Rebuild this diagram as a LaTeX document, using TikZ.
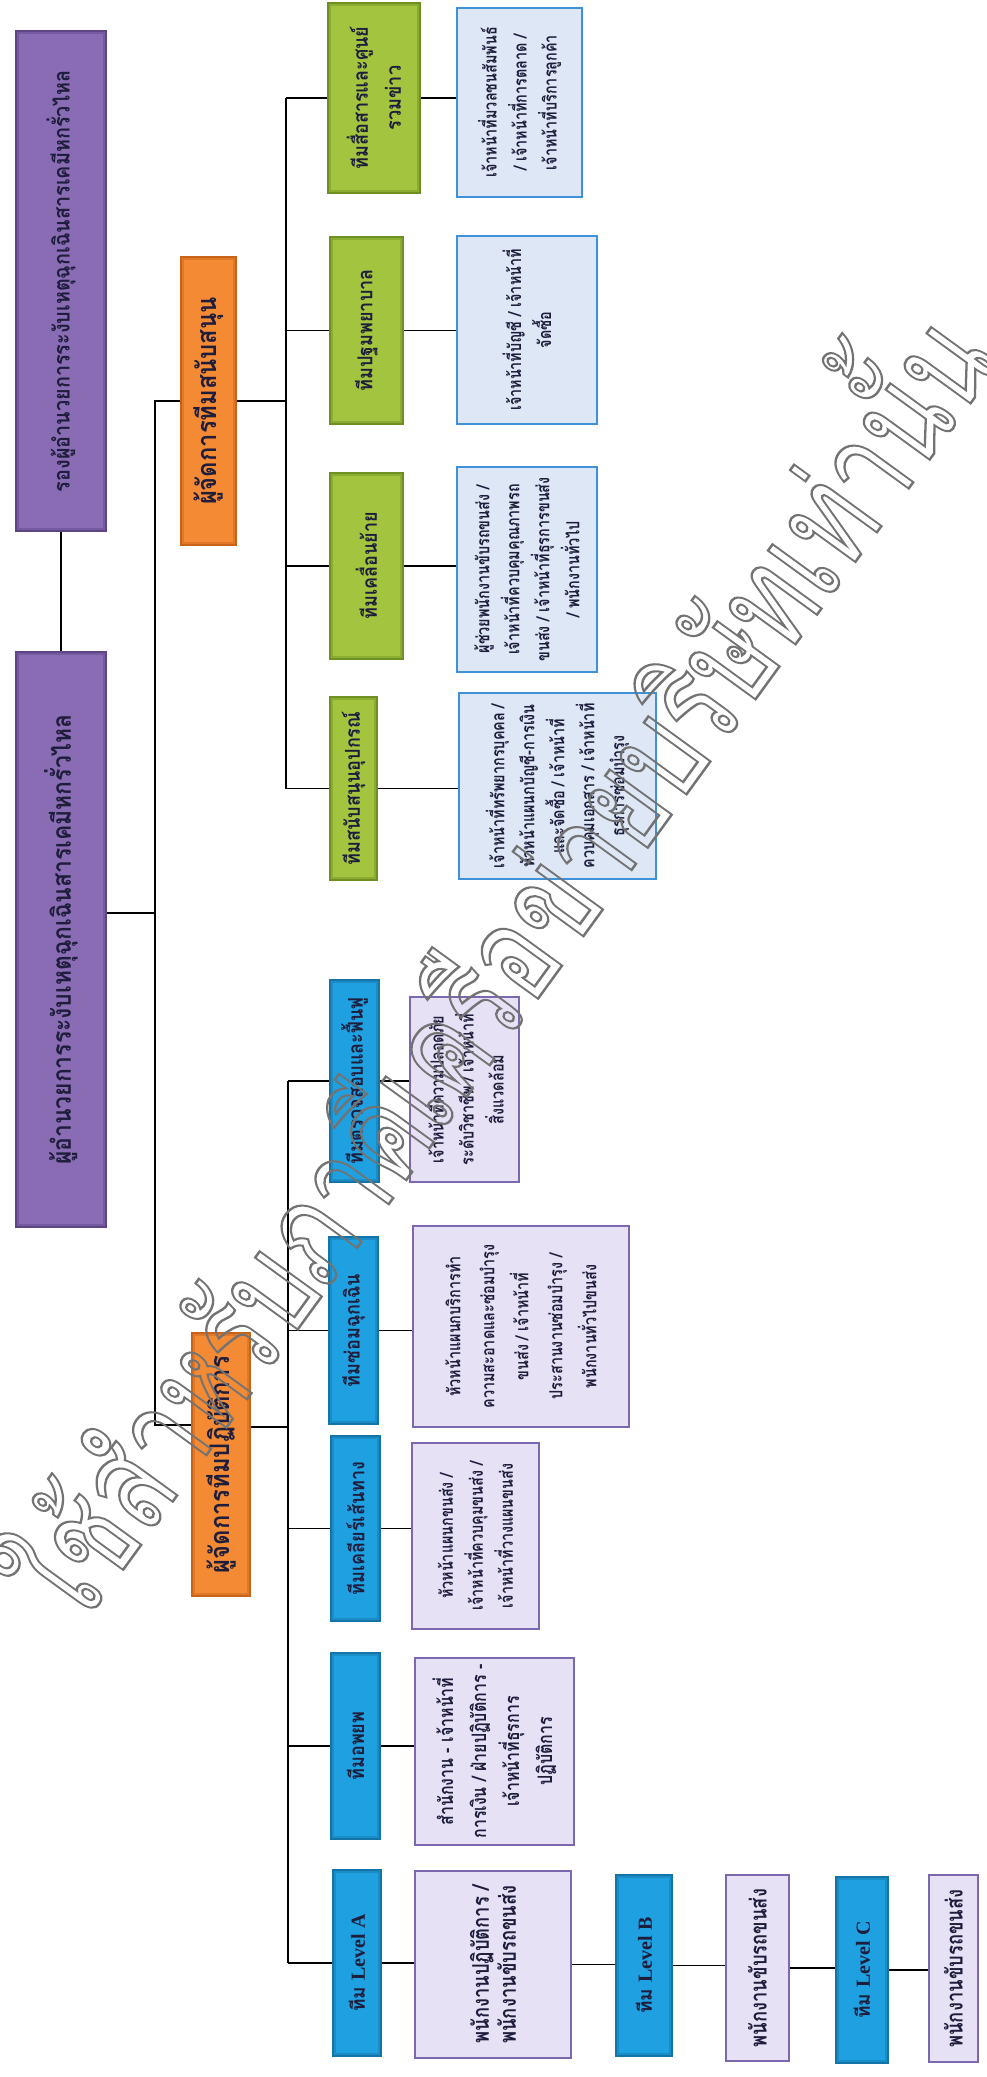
\documentclass[tikz,border=0pt]{standalone}
\usepackage{fontspec}
\newfontfamily\thaifont[Script=Thai]{Loma}
\newfontfamily\thaicond[Script=Thai,FakeStretch=0.8]{Loma}
\newfontfamily\thaimid[Script=Thai,FakeStretch=0.88]{Loma}
\newfontfamily\latserif{Liberation Serif}
\usetikzlibrary{calc}
\definecolor{purp}{HTML}{8A6CB5}
\definecolor{purpD}{HTML}{5E4585}
\definecolor{orng}{HTML}{F48A33}
\definecolor{orngD}{HTML}{C8641A}
\definecolor{grn}{HTML}{A3C43F}
\definecolor{grnD}{HTML}{6E8F22}
\definecolor{blu}{HTML}{1FA0E0}
\definecolor{bluD}{HTML}{1474A8}
\definecolor{lblue}{HTML}{DDE7F6}
\definecolor{lblueB}{HTML}{3D92DA}
\definecolor{lav}{HTML}{E7E1F6}
\definecolor{lavB}{HTML}{7B68AE}
\definecolor{ink}{HTML}{1E1E3C}
\newcommand\fPA{\thaimid\bfseries\fontsize{26}{30}\selectfont}
\newcommand\fPB{\thaimid\bfseries\fontsize{22.5}{26}\selectfont}
\newcommand\fOR{\thaimid\bfseries\fontsize{27}{30}\selectfont}
\newcommand\fTI{\thaimid\bfseries\fontsize{20.5}{33}\selectfont}
\newcommand\fDE{\thaicond\bfseries\fontsize{18}{30}\selectfont}
\newcommand\fLV{\thaicond\bfseries\fontsize{23}{27}\selectfont}
\newcommand\lvl[1]{{\thaifont\bfseries\fontsize{19}{22}\selectfont ทีม} {\latserif\bfseries\fontsize{20}{22}\selectfont Level #1}}
\newcommand\bx[7]{\node[#2, minimum width={(#6-#5)*1pt}, minimum height={(#4-#3)*1pt}] (#1) at ({(#3+#4)/2},{(#5+#6)/2}) {#7};}
\tikzset{
  base/.style={rotate=90, inner sep=0pt, align=center, text=ink, rectangle},
  bevel/.style={path picture={\draw[line width=6pt, draw=#1, opacity=0.45] (path picture bounding box.south west) rectangle (path picture bounding box.north east);}},
  purpbox/.style={base, fill=purp, draw=purpD, line width=1.5pt, bevel=purpD},
  orbox/.style={base, fill=orng, draw=orngD, line width=1.5pt, font=\fOR, bevel=orngD},
  grbox/.style={base, fill=grn, draw=grnD, line width=1.5pt, font=\fTI, bevel=grnD},
  blbox/.style={base, fill=blu, draw=bluD, line width=1.5pt, font=\fTI, bevel=bluD},
  lbbox/.style={base, fill=lblue, draw=lblueB, line width=1.5pt, font=\fDE},
  lvbox/.style={base, fill=lav, draw=lavB, line width=1.5pt, font=\fDE},
  conn/.style={draw=black, line width=1.6pt},
}
\begin{document}
\begin{tikzpicture}[x=1pt,y=-1pt]
\fill[white] (0,0) rectangle (986,2077);
\useasboundingbox (0,0) rectangle (986,2077);
% top level
\bx{P2}{purpbox,font=\fPB}{16}{106}{31}{531}{รองผู้อำนวยการระงับเหตุฉุกเฉินสารเคมีหกรั่วไหล}
\bx{P1}{purpbox,font=\fPA}{16}{106}{652}{1227}{ผู้อำนวยการระงับเหตุฉุกเฉินสารเคมีหกรั่วไหล}
\bx{O2}{orbox}{181}{236}{257}{545}{ผู้จัดการทีมสนับสนุน}
\bx{O1}{orbox}{192}{250}{1333}{1596}{ผู้จัดการทีมปฏิบัติการ}
% support teams
\bx{G1}{grbox}{328}{420}{3}{193}{ทีมสื่อสารและศูนย์\\รวมข่าว}
\bx{G2}{grbox}{330}{403}{237}{424}{ทีมปฐมพยาบาล}
\bx{G3}{grbox}{330}{403}{473}{659}{ทีมเคลื่อนย้าย}
\bx{G4}{grbox}{330}{377}{697}{880}{ทีมสนับสนุนอุปกรณ์}
\bx{D1}{lbbox}{457}{582}{8}{197}{เจ้าหน้าที่มวลชนสัมพันธ์\\/ เจ้าหน้าที่การตลาด /\\เจ้าหน้าที่บริการลูกค้า}
\bx{D2}{lbbox}{457}{597}{236}{424}{เจ้าหน้าที่บัญชี / เจ้าหน้าที่\\จัดซื้อ}
\bx{D3}{lbbox}{457}{597}{467}{672}{ผู้ช่วยพนักงานขับรถขนส่ง /\\เจ้าหน้าที่ควบคุมคุณภาพรถ\\ขนส่ง / เจ้าหน้าที่ธุรการขนส่ง\\/ พนักงานทั่วไป}
\bx{D4}{lbbox}{459}{656}{693}{879}{เจ้าหน้าที่ทรัพยากรบุคคล /\\หัวหน้าแผนกบัญชี-การเงิน\\และจัดซื้อ / เจ้าหน้าที่\\ควบคุมเอกสาร / เจ้าหน้าที่\\ธุรการซ่อมบำรุง}
% operation teams
\bx{B1}{blbox}{330}{379}{980}{1182}{ทีมตรวจสอบและฟื้นฟู}
\bx{B2}{blbox}{329}{378}{1237}{1424}{ทีมซ่อมฉุกเฉิน}
\bx{B3}{blbox}{331}{380}{1436}{1621}{ทีมเคลียร์เส้นทาง}
\bx{B4}{blbox}{331}{380}{1653}{1839}{ทีมอพยพ}
\bx{LA}{blbox}{333}{381}{1870}{2056}{\lvl{A}}
\bx{LB}{blbox}{616}{672}{1875}{2056}{\lvl{B}}
\bx{LC}{blbox}{836}{888}{1877}{2063}{\lvl{C}}
\bx{E1}{lvbox}{410}{519}{997}{1182}{เจ้าหน้าที่ความปลอดภัย\\ระดับวิชาชีพ / เจ้าหน้าที่\\สิ่งแวดล้อม}
\bx{E2}{lvbox,font=\thaicond\bfseries\fontsize{18}{34}\selectfont}{413}{629}{1226}{1427}{หัวหน้าแผนกบริการทำ\\ความสะอาดและซ่อมบำรุง\\ขนส่ง / เจ้าหน้าที่\\ประสานงานซ่อมบำรุง /\\พนักงานทั่วไปขนส่ง}
\bx{E3}{lvbox}{412}{539}{1443}{1629}{หัวหน้าแผนกขนส่ง /\\เจ้าหน้าที่ควบคุมขนส่ง /\\เจ้าหน้าที่วางแผนขนส่ง}
\bx{E4}{lvbox,font=\thaicond\bfseries\fontsize{20}{33}\selectfont}{415}{574}{1658}{1845}{สำนักงาน - เจ้าหน้าที่\\การเงิน / ฝ่ายปฏิบัติการ -\\เจ้าหน้าที่ธุรการ\\ปฏิบัติการ}
\bx{EA}{lvbox,font=\fLV}{415}{571}{1871}{2058}{พนักงานปฏิบัติการ /\\พนักงานขับรถขนส่ง}
\bx{EB}{lvbox,font=\fLV}{726}{789}{1875}{2061}{พนักงานขับรถขนส่ง}
\bx{EC}{lvbox,font=\fLV}{929}{978}{1875}{2062}{พนักงานขับรถขนส่ง}
% junctions
\coordinate (m1) at (155,401);
\coordinate (m2) at (155,1425);
\coordinate (m3) at (155,913);
\coordinate (s1) at (286,401);
\coordinate (s2) at (288,1427);
% connectors
\draw[conn] (P2.west) -- (P1.east);
\draw[conn] (O2.north) -- (m1) -- (m2) -- (O1.north |- m2);
\draw[conn] (P1.south |- m3) -- (m3);
\draw[conn] (O2.south) -- (s1);
\draw[conn] (G1.north -| s1) -- (G4.north -| s1);
\foreach \g/\d in {G1/D1,G2/D2,G3/D3,G4/D4}{
  \draw[conn] (\g.north -| s1) -- (\g.north);
  \draw[conn] (\g.south) -- (\g.south -| \d.north);
}
\draw[conn] (O1.south |- s2) -- (s2);
\draw[conn] (B1.north -| s2) -- (LA.north -| s2);
\foreach \b/\e in {B1/E1,B2/E2,B3/E3,B4/E4,LA/EA}{
  \draw[conn] (\b.north -| s2) -- (\b.north);
  \draw[conn] (\b.south) -- (\b.south -| \e.north);
}
\draw[conn] (EA.south) -- (EA.south -| LB.north);
\draw[conn] (LB.south) -- (LB.south -| EB.north);
\draw[conn] (EB.south) -- (EB.south -| LC.north);
\draw[conn] (LC.south) -- (LC.south -| EC.north);
% watermark
\node[rotate=54, inner sep=0pt, text=black!55] (wm) at (480,955) {\scalebox{1.07}[1.45]{\thaifont\fontsize{95}{100}\selectfont\special{pdf:literal direct 1 Tr 1.7 w}ใช้สำหรับภาคีเครือข่ายบริษัทเท่านั้น\special{pdf:literal direct 0 Tr}}};
\end{tikzpicture}
\end{document}
